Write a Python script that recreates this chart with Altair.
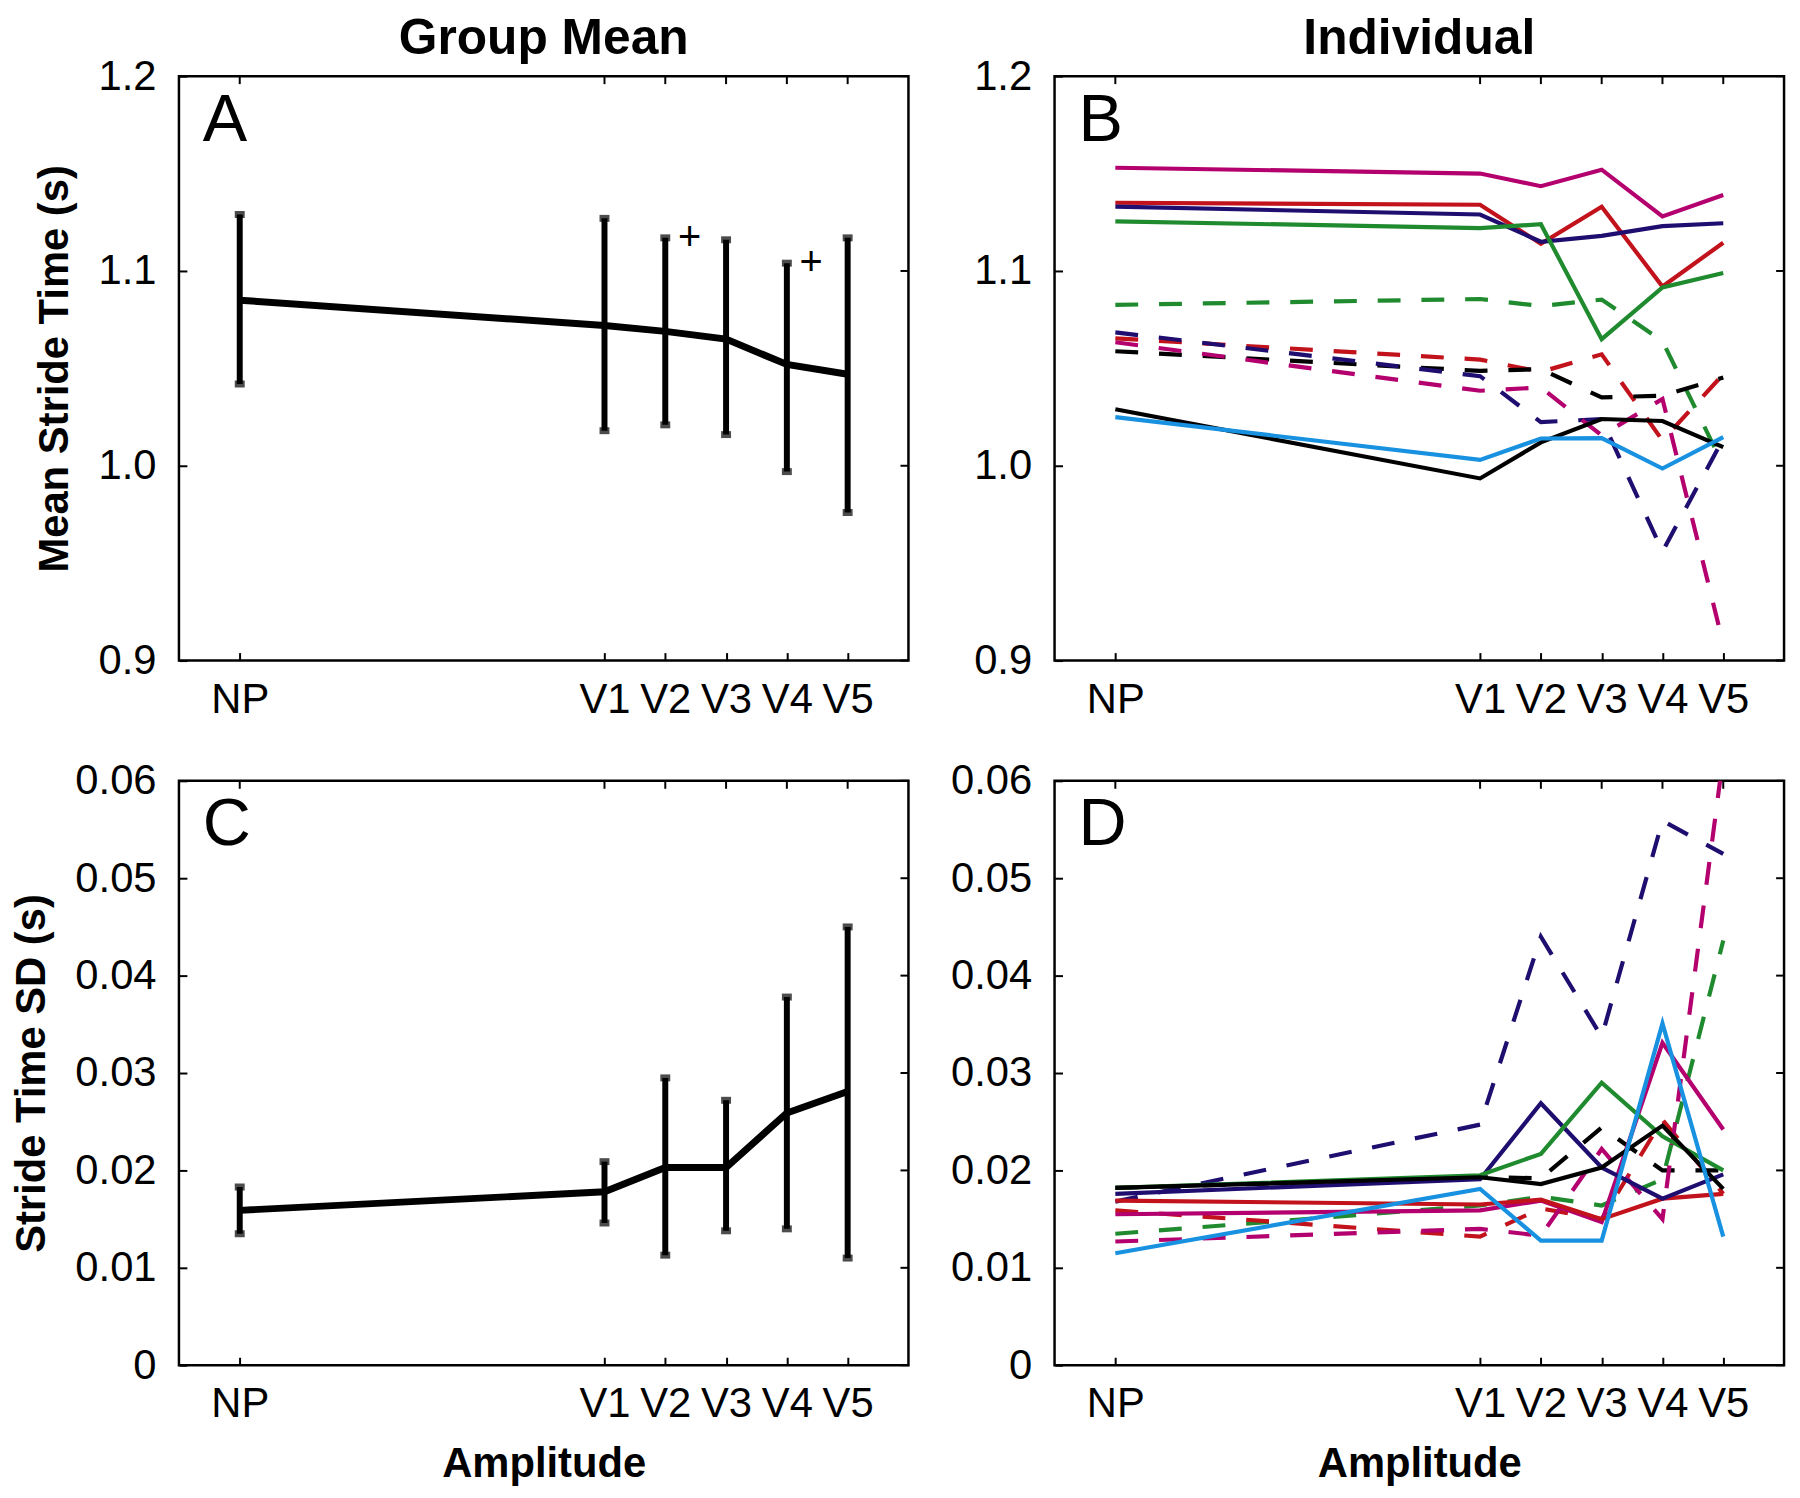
import altair as alt
import pandas as pd

# ---------------- data ----------------
amp_labels = ["NP", "V1", "V2", "V3", "V4", "V5"]
amp_pos = [1, 7, 8, 9, 10, 11]

# Panel A: group mean stride time
grp_mean = [1.085, 1.072, 1.069, 1.065, 1.052, 1.047]
grp_mean_lo = [1.042, 1.018, 1.021, 1.016, 0.997, 0.976]
grp_mean_hi = [1.129, 1.127, 1.117, 1.116, 1.104, 1.117]

# Panel C: group stride time SD
grp_sd = [0.0159, 0.0178, 0.0203, 0.0203, 0.0259, 0.0281]
grp_sd_lo = [0.0135, 0.0146, 0.0113, 0.0138, 0.0140, 0.0110]
grp_sd_hi = [0.0183, 0.0209, 0.0295, 0.0272, 0.0378, 0.0450]

# significance markers in panel A
plus_x = [8.4, 10.4]
plus_y = [1.117, 1.104]

# Panel B: individual mean stride time
b_magenta = [1.153, 1.150, 1.1435, 1.152, 1.128, 1.139]
b_red = [1.135, 1.134, 1.114, 1.133, 1.092, 1.1145]
b_navy = [1.133, 1.129, 1.115, 1.118, 1.123, 1.1245]
b_green = [1.1255, 1.122, 1.124, 1.065, 1.0915, 1.099]
b_black = [1.029, 0.9935, 1.012, 1.024, 1.023, 1.0096]
b_blue = [1.025, 1.003, 1.014, 1.0142, 0.9986, 1.0147]
b_green_d = [1.0826, 1.0856, 1.082, 1.0853, 1.064, 1.0003]
b_red_d = [1.0654, 1.0545, 1.0482, 1.0572, 1.013, 1.047]
b_black_d = [1.0588, 1.0487, 1.0496, 1.0351, 1.036, 1.0453]
b_navy_d = [1.0685, 1.046, 1.0224, 1.024, 0.956, 1.0139]
b_magenta_d = [1.0634, 1.0385, 1.0402, 1.0156, 1.0343, 0.9085]

# Panel D: individual stride time SD
d_magenta = [0.0155, 0.0159, 0.0169, 0.0147, 0.0331, 0.0242]
d_red = [0.0169, 0.0165, 0.0170, 0.0150, 0.0171, 0.0176]
d_navy = [0.0176, 0.0191, 0.0269, 0.0203, 0.0171, 0.0196]
d_green = [0.0182, 0.0195, 0.0217, 0.0290, 0.0235, 0.0200]
d_black = [0.0182, 0.0193, 0.0186, 0.0203, 0.0246, 0.0181]
d_blue = [0.0115, 0.0181, 0.0128, 0.0128, 0.0351, 0.0132]
d_green_d = [0.0135, 0.0164, 0.0173, 0.0164, 0.0191, 0.0436]
d_red_d = [0.0159, 0.0132, 0.0161, 0.0150, 0.0252, 0.0176]
d_black_d = [0.0182, 0.0193, 0.0192, 0.0244, 0.0200, 0.0200]
d_navy_d = [0.0168, 0.0247, 0.0440, 0.0337, 0.0559, 0.0525]
d_magenta_d = [0.0127, 0.0140, 0.0133, 0.0222, 0.0150, 0.0625]

subj_ids = ["magenta", "red", "navy", "green", "black", "blue",
            "green_d", "red_d", "black_d", "navy_d", "magenta_d"]
subj_colors = ["#B4006E", "#C2121C", "#1F0E70", "#1F8A2E", "#000000", "#1791E0",
               "#1F8A2E", "#C2121C", "#000000", "#1F0E70", "#B4006E"]
subj_dashed = [False, False, False, False, False, False, True, True, True, True, True]
subj_b = [b_magenta, b_red, b_navy, b_green, b_black, b_blue,
          b_green_d, b_red_d, b_black_d, b_navy_d, b_magenta_d]
subj_d = [d_magenta, d_red, d_navy, d_green, d_black, d_blue,
          d_green_d, d_red_d, d_black_d, d_navy_d, d_magenta_d]

mean_ticks = [0.9, 1.0, 1.1, 1.2]
sd_ticks = [0, 0.01, 0.02, 0.03, 0.04, 0.05, 0.06]

# ---------------- styling ----------------
FONT = "Liberation Sans"
W, H = 734, 588
TICK = 8
TICK_IN = alt.ExprRef(f"-{TICK}")

label_expr = ""
for p, l in zip(amp_pos, amp_labels):
    label_expr += f"datum.value == {p} ? '{l}' : "
label_expr += "''"

xscale = alt.Scale(domain=[0, 12], nice=False, zero=False)


def xnoax():
    return alt.X("x:Q", scale=xscale, axis=None)


def group_df(mean, lo, hi):
    return pd.DataFrame({"x": amp_pos, "y": mean, "lo": lo, "hi": hi})


def indiv_df(values):
    rows = []
    for sid, vals in zip(subj_ids, values):
        for p, v in zip(amp_pos, vals):
            rows.append({"x": p, "y": v, "subject": sid})
    return pd.DataFrame(rows)


def frame_layers(df, yscale, yticks, yexpr, ytitle, xtitle):
    main_x = alt.Axis(values=amp_pos, labelExpr=label_expr, tickSize=TICK_IN,
                      labelPadding=27, titlePadding=19)
    main_y = alt.Axis(values=yticks, labelExpr=yexpr,
                      tickSize=TICK_IN, labelPadding=31, titlePadding=22)
    if xtitle:
        xe = alt.X("x:Q", scale=xscale, axis=main_x, title=xtitle)
    else:
        xe = alt.X("x:Q", scale=xscale, axis=main_x, title=None)
    if ytitle:
        ye = alt.Y("y:Q", scale=yscale, axis=main_y, title=ytitle)
    else:
        ye = alt.Y("y:Q", scale=yscale, axis=main_y, title=None)
    axes = alt.Chart(df).mark_point(opacity=0).encode(x=xe, y=ye)
    # inward ticks on the top and right edges of the box
    top_ticks = alt.Chart(pd.DataFrame({"x": amp_pos})).mark_rule(
        color="black", strokeWidth=2).encode(x=xnoax(), y=alt.value(0), y2=alt.value(TICK))
    right_ticks = alt.Chart(pd.DataFrame({"v": yticks})).mark_rule(
        color="black", strokeWidth=2).encode(
        y=alt.Y("v:Q", scale=yscale, axis=None), x=alt.value(W), x2=alt.value(W - TICK))
    return [axes, top_ticks, right_ticks]


def letter(ch):
    return alt.Chart(pd.DataFrame({"t": [ch]})).mark_text(
        align="left", baseline="alphabetic", fontSize=67, font=FONT, color="black"
    ).encode(text="t:N", x=alt.value(24), y=alt.value(65))


def header(t):
    return alt.Chart(pd.DataFrame({"t": [t]})).mark_text(
        align="center", baseline="alphabetic", fontSize=50, fontWeight="bold",
        font=FONT, color="black"
    ).encode(text="t:N", x=alt.value(W / 2), y=alt.value(-22))


def group_panel(mean, lo, hi, yscale, yticks, yexpr, ytitle, xtitle, ch, extra=None):
    df = group_df(mean, lo, hi)
    bars = alt.Chart(df).mark_rule(strokeWidth=6, color="black").encode(
        x=xnoax(), y=alt.Y("lo:Q", scale=yscale, axis=None), y2="hi:Q")
    cap_lo = alt.Chart(df).mark_tick(orient="horizontal", size=10, thickness=7, color="black").encode(
        x=xnoax(), y=alt.Y("lo:Q", scale=yscale, axis=None))
    cap_hi = alt.Chart(df).mark_tick(orient="horizontal", size=10, thickness=7, color="black").encode(
        x=xnoax(), y=alt.Y("hi:Q", scale=yscale, axis=None))
    line = alt.Chart(df).mark_line(strokeWidth=7, color="black").encode(
        x=xnoax(), y=alt.Y("y:Q", scale=yscale, axis=None))
    layers = frame_layers(df, yscale, yticks, yexpr, ytitle, xtitle) + \
        [bars, cap_lo, cap_hi, line, letter(ch)]
    if extra is not None:
        layers += extra
    return layers


def indiv_panel(values, yscale, yticks, yexpr, xtitle, ch, extra=None):
    df = indiv_df(values)
    dashed_ids = [s for s, d in zip(subj_ids, subj_dashed) if d]
    solid_ids = [s for s, d in zip(subj_ids, subj_dashed) if not d]
    color = alt.Color("subject:N", scale=alt.Scale(domain=subj_ids, range=subj_colors), legend=None)
    y = alt.Y("y:Q", scale=yscale, axis=None)
    dashed = alt.Chart(df).transform_filter(
        alt.FieldOneOfPredicate(field="subject", oneOf=dashed_ids)
    ).mark_line(strokeWidth=4.2, strokeDash=[23, 21], clip=True).encode(
        x=xnoax(), y=y, color=color, detail="subject:N")
    solid = alt.Chart(df).transform_filter(
        alt.FieldOneOfPredicate(field="subject", oneOf=solid_ids)
    ).mark_line(strokeWidth=4.2, clip=True).encode(
        x=xnoax(), y=y, color=color, detail="subject:N")
    layers = frame_layers(df, yscale, yticks, yexpr, None, xtitle) + [dashed, solid, letter(ch)]
    if extra is not None:
        layers += extra
    return layers


mean_scale = alt.Scale(domain=[0.9, 1.2], nice=False, zero=False)
sd_scale = alt.Scale(domain=[0, 0.06], nice=False, zero=False)
mean_expr = "format(datum.value, '.1f')"
sd_expr = "datum.value == 0 ? '0' : format(datum.value, '.2f')"

plus_df = pd.DataFrame({"x": plus_x, "y": plus_y, "t": ["+"] * len(plus_x)})
plus = alt.Chart(plus_df).mark_text(fontSize=40, font=FONT, color="black",
                                    baseline="middle", align="center").encode(
    x=xnoax(), y=alt.Y("y:Q", scale=mean_scale, axis=None), text="t:N")


def panel(layers):
    return alt.layer(*layers).resolve_axis(x="independent", y="independent").properties(
        width=W, height=H)


panel_a = panel(group_panel(grp_mean, grp_mean_lo, grp_mean_hi, mean_scale, mean_ticks,
                            mean_expr, "Mean Stride Time (s)", None, "A",
                            [plus, header("Group Mean")]))
panel_b = panel(indiv_panel(subj_b, mean_scale, mean_ticks, mean_expr, None, "B",
                            [header("Individual")]))
panel_c = panel(group_panel(grp_sd, grp_sd_lo, grp_sd_hi, sd_scale, sd_ticks, sd_expr,
                            "Stride Time SD (s)", "Amplitude", "C"))
panel_d = panel(indiv_panel(subj_d, sd_scale, sd_ticks, sd_expr, "Amplitude", "D"))

chart = alt.concat(panel_a, panel_b, panel_c, panel_d, columns=2,
                   spacing={"row": 121, "column": 147}, bounds="flush").properties(
    padding={"left": 1, "top": 0, "right": 5, "bottom": 5}
).configure_view(stroke="black", strokeWidth=2.5).configure_axis(
    labelFont=FONT, labelFontSize=42, labelColor="black",
    titleFont=FONT, titleFontSize=42, titleFontWeight="bold", titleColor="black",
    tickColor="black", tickWidth=2, domain=False, grid=False
)

chart.save("out.html", embed_options={"renderer": "svg", "actions": False})
